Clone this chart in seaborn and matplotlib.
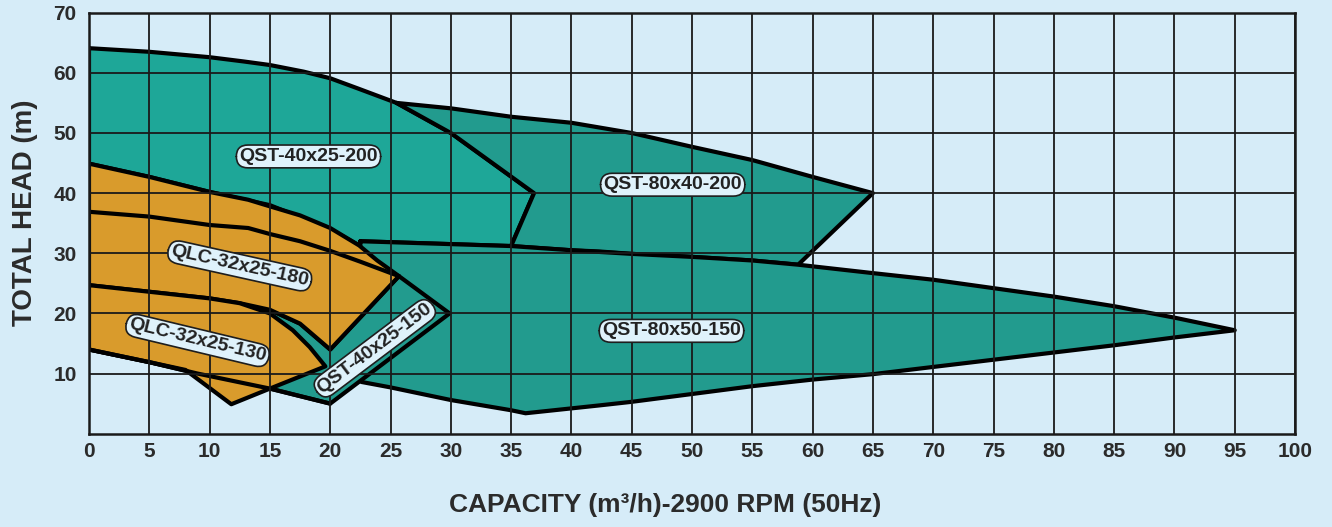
import numpy as np
import pandas as pd
import matplotlib
matplotlib.use("Agg")
import matplotlib.pyplot as plt
import seaborn as sns

# Obszary pracy pomp (Q w m3/h, H w m)
qst_40x25_200_q = [0, 5, 10, 12.8, 15, 17.8, 20, 22.3, 25.5, 30, 36.9, 35, 22.5, 22.4, 20, 15, 10, 5, 0]
qst_40x25_200_h = [64.1, 63.5, 62.6, 61.9, 61.3, 60.2, 59.1, 57.4, 55, 50, 40, 31.2, 32, 31.3, 34, 38, 40.2, 42.7, 44.9]

qst_80x40_200_q = [25.5, 30, 35, 40, 45, 50, 55, 60, 65, 58.8, 55, 50, 45, 42.3, 40, 35, 36.9, 30]
qst_80x40_200_h = [55, 54.1, 52.7, 51.7, 50, 47.7, 45.5, 42.7, 40, 28.1, 28.8, 29.4, 29.9, 30.3, 30.5, 31.2, 40, 50]

qst_80x50_150_q = [22.5, 35, 40, 45, 50, 55, 58.8, 65, 70, 75, 80, 85, 90, 95,
                   90, 85, 80, 75, 70, 65, 60, 55, 50, 45, 42.3, 36.2, 35, 30, 25, 22.6, 22.5]
qst_80x50_150_h = [32, 31.2, 30.5, 29.9, 29.4, 28.8, 28.1, 26.7, 25.6, 24.2, 22.8, 21.2, 19.3, 17.2,
                   16, 14.7, 13.5, 12.3, 11.1, 9.9, 9, 7.9, 6.6, 5.3, 4.7, 3.4, 3.9, 5.6, 7.7, 8.6, 20]

qst_40x25_150_q = [0, 5, 10, 12.5, 15, 17.5, 20, 25.7, 29.9, 20, 15, 9, 5, 0]
qst_40x25_150_h = [24.7, 23.6, 22.5, 21.7, 20.6, 18.3, 14, 26.2, 20, 5, 7.5, 10, 11.9, 14]

qlc_32x25_180_q = [0, 5, 10, 13.2, 15, 17.5, 20, 22.4, 23.9, 25.7, 20, 17.5, 15, 12.5, 10, 5, 0]
qlc_32x25_180_h = [44.9, 42.7, 40.2, 38.9, 37.8, 36.3, 34.2, 31.3, 28.8, 26.2, 14, 18.3, 20.6, 21.7, 22.5, 23.6, 24.7]
# srodkowa krzywa wirnika QLC-32x25-180
qlc_180_mid_q = [0, 5, 10, 13.2, 15, 17.5, 20, 22.5, 25.7]
qlc_180_mid_h = [36.9, 36.1, 34.7, 34.2, 33.2, 32.0, 30.4, 28.6, 26.2]

qlc_32x25_130_q = [0, 5, 10, 12.5, 15, 16.9, 18.3, 19.6, 15, 11.8, 8, 5, 0]
qlc_32x25_130_h = [24.7, 23.6, 22.5, 21.7, 20, 17.2, 14.4, 11.2, 7.5, 4.9, 10.6, 11.9, 14]

# dolna krzywa QST-40x25-150 (widoczna na tle QLC)
qst_150_low_q = [0, 5, 9, 15, 20]
qst_150_low_h = [14, 11.9, 10, 7.5, 5]

modele = ["QST-40x25-200", "QST-80x40-200", "QST-80x50-150",
          "QST-40x25-150", "QLC-32x25-180", "QLC-32x25-130"]

tlo = "#d6ecf8"
turkus = "#1ea798"
turkus_ciemny = "#229b8e"
pomarancz = "#d99b2c"

sns.set_theme(style="white")
plt.rcParams["font.family"] = ["Liberation Sans", "DejaVu Sans"]
plt.rcParams["font.weight"] = "bold"

fig = plt.figure(figsize=(13.32, 5.27), dpi=100, facecolor=tlo)
ax = fig.add_axes([89 / 1332, 1 - 433.7 / 527, 1206 / 1332, 421 / 527])
ax.set_facecolor(tlo)

obszary = [
    (qst_40x25_200_q, qst_40x25_200_h, turkus),
    (qst_80x40_200_q, qst_80x40_200_h, turkus_ciemny),
    (qst_80x50_150_q, qst_80x50_150_h, turkus_ciemny),
    (qst_40x25_150_q, qst_40x25_150_h, turkus_ciemny),
    (qlc_32x25_180_q, qlc_32x25_180_h, pomarancz),
    (qlc_32x25_130_q, qlc_32x25_130_h, pomarancz),
]

z = 1.0
for q, h, kolor in obszary:
    ax.fill(q, h, color=kolor, lw=0, zorder=z)
    df = pd.DataFrame({"Q": q + [q[0]], "H": h + [h[0]]})
    sns.lineplot(data=df, x="Q", y="H", sort=False, estimator=None,
                 color="black", lw=3, ax=ax, zorder=z + 0.05)
    z += 0.1

for q, h in [(qlc_180_mid_q, qlc_180_mid_h), (qst_150_low_q, qst_150_low_h)]:
    sns.lineplot(x=q, y=h, sort=False, estimator=None, color="black", lw=3, ax=ax, zorder=z)

# siatka
ax.set_xlim(0, 100)
ax.set_ylim(0, 70)
ax.set_xticks(np.arange(0, 101, 5))
ax.set_yticks(np.arange(10, 71, 10))
ax.set_axisbelow(False)
ax.grid(True, color="#1a1a1a", lw=1.3, zorder=2.5)
for s in ax.spines.values():
    s.set_color("#1a1a1a")
    s.set_linewidth(1.8)
    s.set_visible(True)
ax.tick_params(axis="both", length=0, labelsize=15, labelcolor="#2b2b2b")
ax.tick_params(axis="x", pad=6)
ax.tick_params(axis="y", pad=9)
ax.set_xlabel("")
ax.set_ylabel("")

# etykiety modeli
pozycje = [(18.2, 46.1, 0), (48.4, 41.4, 0), (48.3, 17.1, 0),
           (23.7, 14.2, 37), (12.5, 27.9, -12.5), (9.0, 15.5, -13.5)]
for nazwa, (x, y, r) in zip(modele, pozycje):
    ax.text(x, y, nazwa, ha="center", va="center", rotation=r, rotation_mode="anchor",
            fontsize=14, color="#222222", zorder=5,
            bbox=dict(boxstyle="round,pad=0.15,rounding_size=0.6",
                      fc="#dff2fb", ec="#1e1e1e", lw=1.2))

fig.text(25 / 1332, 1 - 213 / 527, "TOTAL HEAD (m)", rotation=90, ha="center", va="center",
         fontsize=20, color="#2b2b2b")
fig.text(665 / 1332, 1 - 505 / 527, "CAPACITY (m³/h)-2900 RPM (50Hz)", ha="center", va="center",
         fontsize=19, color="#2b2b2b")

plt.savefig("out.png", dpi=100, facecolor=tlo)
